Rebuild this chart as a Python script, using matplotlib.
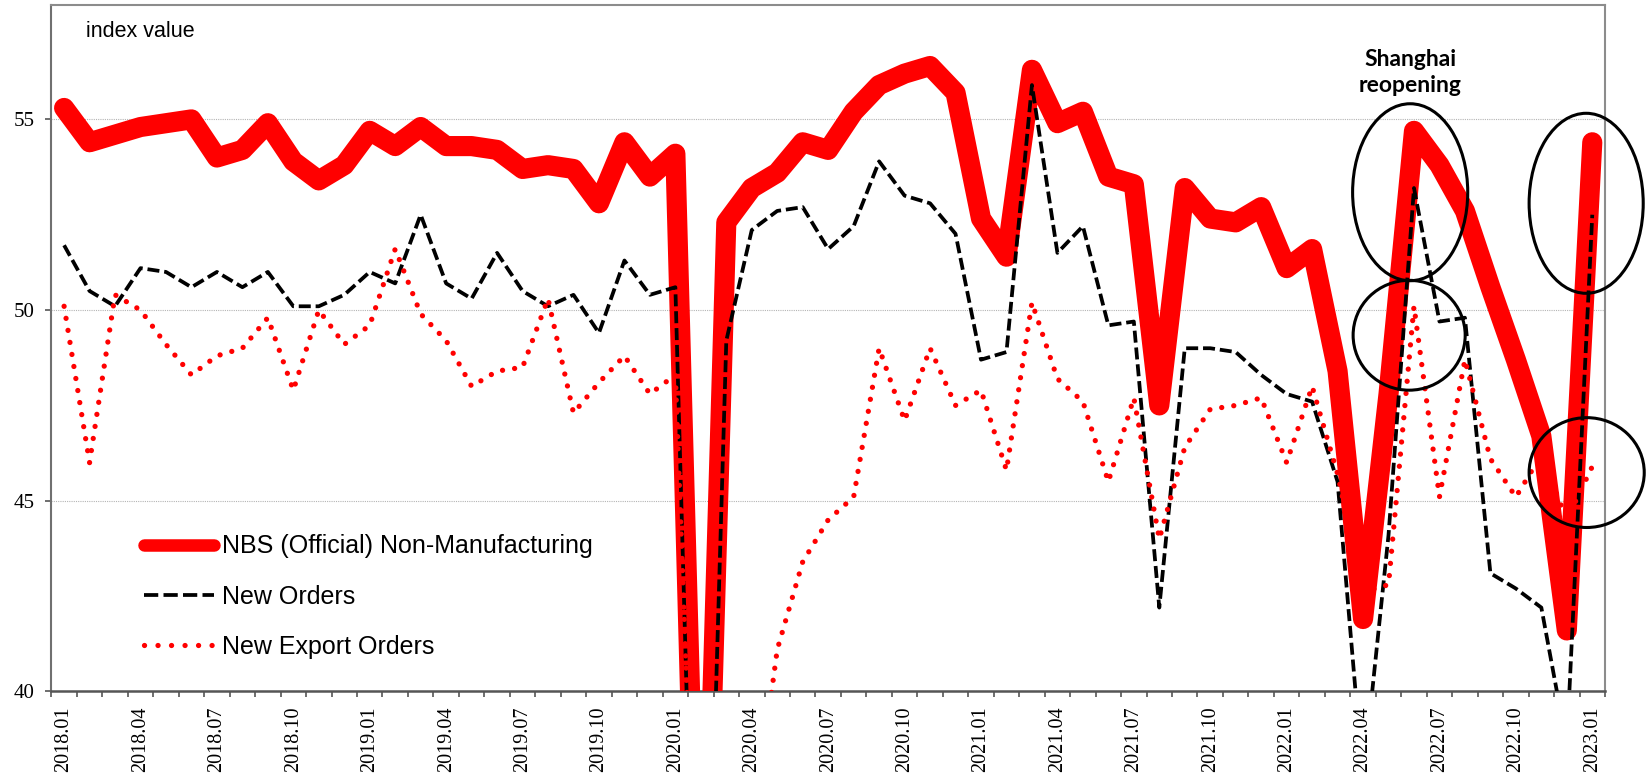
import matplotlib
matplotlib.use("Agg")
import matplotlib.pyplot as plt
from matplotlib.lines import Line2D
from matplotlib.patches import Ellipse
import numpy as np

# monthly categories 2018.01 .. 2023.01
months = [f"{y}.{m:02d}" for y in range(2018, 2023) for m in range(1, 13)] + ["2023.01"]

nbs_non_mfg = [
    55.3, 54.4, 54.6, 54.8, 54.9, 55.0, 54.0, 54.2, 54.9, 53.9, 53.4, 53.8,
    54.7, 54.3, 54.8, 54.3, 54.3, 54.2, 53.7, 53.8, 53.7, 52.8, 54.4, 53.5,
    54.1, 29.6, 52.3, 53.2, 53.6, 54.4, 54.2, 55.2, 55.9, 56.2, 56.4, 55.7,
    52.4, 51.4, 56.3, 54.9, 55.2, 53.5, 53.3, 47.5, 53.2, 52.4, 52.3, 52.7,
    51.1, 51.6, 48.4, 41.9, 47.8, 54.7, 53.8, 52.6, 50.6, 48.7, 46.7, 41.6,
    54.4,
]

new_orders = [
    51.7, 50.5, 50.1, 51.1, 51.0, 50.6, 51.0, 50.6, 51.0, 50.1, 50.1, 50.4,
    51.0, 50.7, 52.5, 50.7, 50.3, 51.5, 50.5, 50.1, 50.4, 49.4, 51.3, 50.4,
    50.6, 26.5, 49.2, 52.1, 52.6, 52.7, 51.6, 52.2, 53.9, 53.0, 52.8, 52.0,
    48.7, 48.9, 55.9, 51.5, 52.2, 49.6, 49.7, 42.2, 49.0, 49.0, 48.9, 48.3,
    47.8, 47.6, 45.5, 37.7, 44.1, 53.2, 49.7, 49.8, 43.1, 42.7, 42.2, 38.6,
    52.5,
]

new_export_orders = [
    50.1, 46.0, 50.4, 50.0, 49.1, 48.3, 48.8, 49.0, 49.8, 47.9, 50.0, 49.1,
    49.6, 51.6, 49.9, 49.2, 48.0, 48.4, 48.5, 50.3, 47.3, 48.1, 48.8, 47.8,
    48.3, 30.0, 33.0, 36.1, 41.1, 43.4, 44.5, 45.1, 49.0, 47.1, 49.0, 47.5,
    47.9, 45.8, 50.2, 48.2, 47.6, 45.5, 47.7, 44.0, 46.4, 47.4, 47.5, 47.7,
    46.0, 48.0, 45.7, 42.6, 42.8, 50.1, 45.1, 48.7, 46.1, 45.1, 46.2, 44.5,
    45.9,
]

series_names = ["NBS (Official) Non-Manufacturing", "New Orders", "New Export Orders"]

RED = "#ff0000"
SANS = ["Liberation Sans", "DejaVu Sans"]
SERIF = ["Liberation Serif", "DejaVu Serif"]

x = np.arange(len(months))

fig = plt.figure(figsize=(16.46, 7.76), dpi=100)
ax = fig.add_axes([0.0312, 0.1089, 0.9439, 0.8847])

nbs_style = dict(color=RED, lw=14.5, solid_capstyle="round", solid_joinstyle="round")
orders_style = dict(color="black", lw=2.7, linestyle=(0, (3.2, 1.3)), dash_capstyle="butt")
export_style = dict(color=RED, lw=3.8, linestyle=(0, (0.01, 2.3)), dash_capstyle="round")

ax.plot(x, nbs_non_mfg, zorder=3, **nbs_style)
ax.plot(x, new_orders, zorder=4, **orders_style)
ax.plot(x, new_export_orders, zorder=5, **export_style)

ax.set_xlim(-0.5, len(months) - 0.5)
ax.set_ylim(40, 58)

# y axis
ax.set_yticks([40, 45, 50, 55])
ax.grid(axis="y", color="#b4b4b4", lw=0.8, linestyle=(0, (1, 1)), zorder=1)
ax.tick_params(axis="y", direction="out", length=4.3, width=1.2, pad=8, color="#555555")
for lab in ax.get_yticklabels():
    lab.set_family(SERIF)
    lab.set_fontsize(15)

# x axis: labels every 3 months, tick marks between categories
ax.set_xticks(x[::3])
ax.set_xticklabels(months[::3], rotation=90, family=SERIF, fontsize=14.5)
ax.set_xticks(np.arange(-0.5, len(months), 1), minor=True)
ax.tick_params(axis="x", which="major", length=0, pad=10.5)
ax.tick_params(axis="x", which="minor", direction="out", length=4.3, width=1.2, color="#555555")

for side in ("top", "right"):
    ax.spines[side].set_color("#8c8c8c")
    ax.spines[side].set_linewidth(1.5)
ax.spines["left"].set_color("#707070")
ax.spines["left"].set_linewidth(1.5)
ax.spines["bottom"].set_color("#555555")
ax.spines["bottom"].set_linewidth(1.8)

ax.text(0.85, 57.3, "index value", family=SANS, fontsize=15.5, va="center", ha="left")

# annotation
ax.text(52.85, 56.23, "Shanghai\nreopening", family=["Lato", "DejaVu Sans"],
        fontweight="bold", fontsize=16.5, ha="center", va="center", linespacing=1.25)

circles = [
    ((52.85, 53.09), 4.52, 4.64),
    ((52.81, 49.34), 4.40, 2.88),
    ((59.76, 52.80), 4.48, 4.72),
    ((59.78, 45.74), 4.52, 2.88),
]
for center, w, h in circles:
    ax.add_patch(Ellipse(center, w, h, fill=False, ec="black", lw=2.2,
                         clip_on=False, zorder=6))

# legend (the thick line has a thinner handle, as in the original)
handles = [
    Line2D([], [], **{**nbs_style, "lw": 9}),
    Line2D([], [], **{**orders_style, "linestyle": (0, (3.8, 1.4))}),
    Line2D([], [], **{**export_style, "linestyle": (0, (0.01, 2.55))}),
]
leg = ax.legend(handles, series_names, loc="upper left", bbox_to_anchor=(0.0597, 0.229),
                frameon=False, borderpad=0, borderaxespad=0, handlelength=2.8,
                handletextpad=0.31, labelspacing=1.05,
                prop={"family": SANS, "size": 18})

fig.savefig("out.png", dpi=100)
